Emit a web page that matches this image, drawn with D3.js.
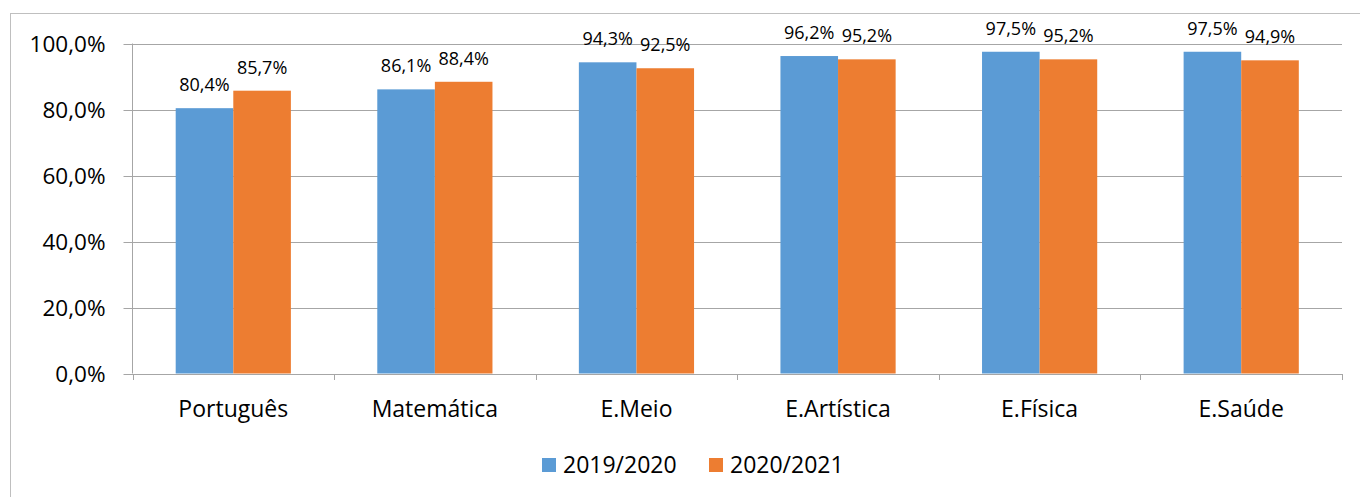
<!DOCTYPE html>
<html lang="pt">
<head>
  <meta charset="UTF-8">
  <title>Taxa de sucesso por disciplina</title>
  <script src="https://d3js.org/d3.v7.min.js"></script>
  <style>
    body { margin:0; background:#fff; }
    svg { display:block; font-family:'Open Sans', sans-serif; }
  </style>
</head>
<body>
  <svg width="1360" height="497"></svg>
  <script>
    const categories = ['Português', 'Matemática', 'E.Meio', 'E.Artística', 'E.Física', 'E.Saúde']
    const seriesNames = ['2019/2020', '2020/2021']
    const values2019 = [80.4, 86.1, 94.3, 96.2, 97.5, 97.5]
    const values2020 = [85.7, 88.4, 92.5, 95.2, 95.2, 94.9]
    const yTicks = [0, 20, 40, 60, 80, 100]
    const colors = ['#5b9bd5', '#ed7d31']

    const svg = d3.select('svg')
    const margin = {top: 43.5, bottom: 123.5, left: 132.5, right: 18}
    const width = 1360
    const height = 497
    const fmt = v => v.toFixed(1).replace('.', ',') + '%'

    // frame around the chart
    svg.append('rect')
      .attr('x', 10.5).attr('y', 13.5)
      .attr('width', 1360).attr('height', 500)
      .attr('fill', 'none').attr('stroke', '#bfbfbf')

    const x = d3.scaleBand()
      .domain(categories)
      .range([margin.left, width - margin.right])
      .paddingInner(0).paddingOuter(0)
    const x1 = d3.scaleBand()
      .domain(seriesNames)
      .range([0, x.bandwidth()])
      .paddingInner(0).paddingOuter(0.75)
    const y = d3.scaleLinear()
      .domain([0, 100])
      .range([height - margin.bottom, margin.top])

    // gridlines
    svg.append('g').selectAll('line')
      .data(yTicks)
      .join('line')
      .attr('x1', margin.left - 9)
      .attr('x2', width - margin.right)
      .attr('y1', d => Math.round(y(d)) + 0.5)
      .attr('y2', d => Math.round(y(d)) + 0.5)
      .attr('stroke', '#a6a6a6')

    // y axis labels
    svg.append('g').selectAll('text')
      .data(yTicks)
      .join('text')
      .attr('x', margin.left - 27)
      .attr('y', d => y(d))
      .attr('dy', '0.36em')
      .attr('text-anchor', 'end')
      .attr('font-size', 22.5)
      .attr('fill', '#000')
      .text(d => d.toFixed(1).replace('.', ',') + '%')

    // y axis line
    svg.append('line')
      .attr('x1', margin.left).attr('x2', margin.left)
      .attr('y1', y(100)).attr('y2', y(0))
      .attr('stroke', '#a6a6a6')

    // x ticks at category boundaries
    const bounds = categories.map(c => x(c)).concat([width - margin.right])
    svg.append('g').selectAll('line')
      .data(bounds)
      .join('line')
      .attr('x1', d => Math.round(d) + 0.5)
      .attr('x2', d => Math.round(d) + 0.5)
      .attr('y1', Math.round(y(0)))
      .attr('y2', Math.round(y(0)) + 6)
      .attr('stroke', '#a6a6a6')

    // bars
    const rows = categories.map((c, i) => ({cat: c, vals: [values2019[i], values2020[i]]}))
    const groups = svg.append('g').selectAll('g')
      .data(rows)
      .join('g')
      .attr('transform', d => 'translate(' + x(d.cat) + ',0)')
    groups.selectAll('rect')
      .data(d => d.vals.map((v, j) => ({v, s: seriesNames[j], j})))
      .join('rect')
      .attr('x', d => x1(d.s))
      .attr('width', x1.bandwidth())
      .attr('y', d => y(d.v))
      .attr('height', d => y(0) - y(d.v))
      .attr('fill', d => colors[d.j])
    groups.selectAll('text')
      .data(d => d.vals.map((v, j) => ({v, s: seriesNames[j], j})))
      .join('text')
      .attr('x', d => x1(d.s) + x1.bandwidth() / 2)
      .attr('y', d => y(d.v) - 17)
      .attr('text-anchor', 'middle')
      .attr('font-size', 18)
      .attr('fill', '#000')
      .text(d => fmt(d.v))

    // category labels
    svg.append('g').selectAll('text')
      .data(categories)
      .join('text')
      .attr('x', d => x(d) + x.bandwidth() / 2)
      .attr('y', 417)
      .attr('text-anchor', 'middle')
      .attr('font-size', 23)
      .attr('fill', '#000')
      .text(d => d)

    // legend
    const legendX = [542, 709]
    const legend = svg.append('g').selectAll('g')
      .data(seriesNames)
      .join('g')
      .attr('transform', (d, i) => 'translate(' + legendX[i] + ',458)')
    legend.append('rect')
      .attr('width', 14).attr('height', 14)
      .attr('fill', (d, i) => colors[i])
    legend.append('text')
      .attr('x', 21).attr('y', 15)
      .attr('font-size', 23)
      .attr('fill', '#000')
      .text(d => d)
  </script>
</body>
</html>
